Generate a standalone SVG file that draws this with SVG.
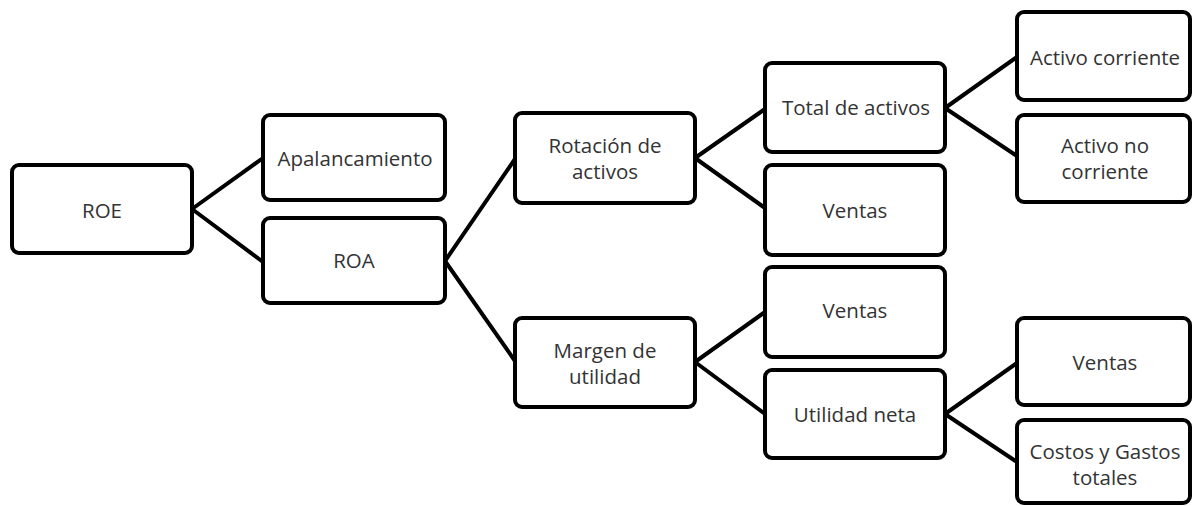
<svg xmlns="http://www.w3.org/2000/svg" width="1194" height="506" viewBox="0 0 1194 506">
<style>
.box{fill:#fff;stroke:#000;stroke-width:4}
.lbl{font-family:"Open Sans","Noto Sans",sans-serif;font-size:20.5px;fill:#333;text-anchor:middle}
.con line{stroke:#000;stroke-width:4;stroke-linecap:round}
</style>
<rect width="1194" height="506" fill="#fff"/>
<g class="con" id="connectors">
<line x1="192" y1="209" x2="263" y2="158"/>
<line x1="192" y1="209" x2="263" y2="262"/>
<line x1="445" y1="261" x2="515" y2="159"/>
<line x1="445" y1="261" x2="515" y2="361"/>
<line x1="695" y1="158" x2="765" y2="109"/>
<line x1="695" y1="158" x2="765" y2="208"/>
<line x1="695" y1="362" x2="765" y2="312"/>
<line x1="695" y1="362" x2="765" y2="414"/>
<line x1="945" y1="108" x2="1017" y2="57"/>
<line x1="945" y1="108" x2="1017" y2="156"/>
<line x1="945" y1="414" x2="1017" y2="363"/>
<line x1="945" y1="414" x2="1017" y2="462"/>
</g>
<g id="roe"><rect class="box" x="12" y="165" width="180" height="88" rx="7"/><text class="lbl" x="102" y="218">ROE</text></g>
<g id="apalancamiento"><rect class="box" x="263" y="115" width="182" height="85" rx="7"/><text class="lbl" x="355" y="166">Apalancamiento</text></g>
<g id="roa"><rect class="box" x="263" y="218" width="182" height="85" rx="7"/><text class="lbl" x="354" y="268">ROA</text></g>
<g id="rotacion"><rect class="box" x="515" y="113" width="180" height="90" rx="7"/><text class="lbl" x="605" y="153">Rotación de</text><text class="lbl" x="605" y="179">activos</text></g>
<g id="margen"><rect class="box" x="515" y="318" width="180" height="89" rx="7"/><text class="lbl" x="605" y="358">Margen de</text><text class="lbl" x="605" y="384">utilidad</text></g>
<g id="total-activos"><rect class="box" x="765" y="63" width="180" height="89" rx="7"/><text class="lbl" x="856" y="115">Total de activos</text></g>
<g id="ventas1"><rect class="box" x="765" y="165" width="180" height="90" rx="7"/><text class="lbl" x="855" y="218">Ventas</text></g>
<g id="ventas2"><rect class="box" x="765" y="267" width="180" height="90" rx="7"/><text class="lbl" x="855" y="318">Ventas</text></g>
<g id="utilidad-neta"><rect class="box" x="765" y="370" width="180" height="88" rx="7"/><text class="lbl" x="855" y="422">Utilidad neta</text></g>
<g id="activo-corriente"><rect class="box" x="1017" y="12" width="173" height="88" rx="7"/><text class="lbl" x="1105" y="65">Activo corriente</text></g>
<g id="activo-no-corriente"><rect class="box" x="1017" y="115" width="173" height="87" rx="7"/><text class="lbl" x="1105" y="153">Activo no</text><text class="lbl" x="1105" y="179">corriente</text></g>
<g id="ventas3"><rect class="box" x="1017" y="318" width="173" height="87" rx="7"/><text class="lbl" x="1105" y="370">Ventas</text></g>
<g id="costos"><rect class="box" x="1017" y="420" width="173" height="83" rx="7"/><text class="lbl" x="1105" y="459">Costos y Gastos</text><text class="lbl" x="1105" y="485">totales</text></g>
</svg>
